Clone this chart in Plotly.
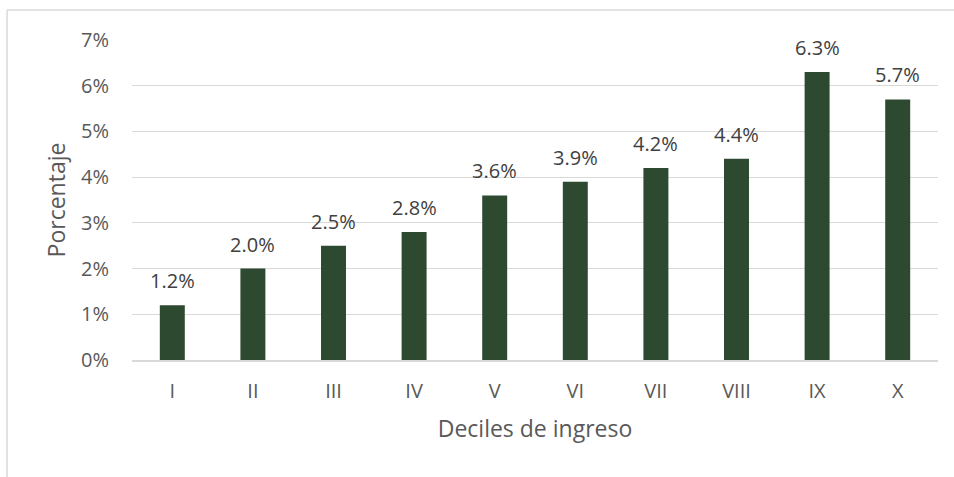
import plotly.graph_objects as go

categories = ["I", "II", "III", "IV", "V", "VI", "VII", "VIII", "IX", "X"]
values = [1.2, 2.0, 2.5, 2.8, 3.6, 3.9, 4.2, 4.4, 6.3, 5.7]
y_ticks = [0, 1, 2, 3, 4, 5, 6, 7]

font_family = "Open Sans"
text_color = "#595959"
label_color = "#404040"
grid_color = "#d9d9d9"

fig = go.Figure(
    go.Bar(
        x=categories,
        y=values,
        marker=dict(color="#2d4a31", line=dict(width=0)),
        width=0.31,
        hoverinfo="x+y",
    )
)

annotations = [
    dict(
        x=c, y=v, xref="x", yref="y",
        text=f"{v:.1f}%",
        showarrow=False,
        yanchor="bottom",
        yshift=9,
        font=dict(size=20, color=label_color, family=font_family),
    )
    for c, v in zip(categories, values)
]

fig.update_layout(
    width=954,
    height=477,
    margin=dict(l=132, r=16, t=40, b=117),
    paper_bgcolor="white",
    plot_bgcolor="white",
    showlegend=False,
    font=dict(family=font_family, color=text_color, size=20),
    annotations=annotations,
    xaxis=dict(
        title=dict(text="Deciles de ingreso", font=dict(size=23, color=text_color), standoff=18),
        showgrid=False,
        showline=True,
        linecolor=grid_color,
        linewidth=1.5,
        ticks="",
        ticklabelstandoff=12,
        tickfont=dict(size=20),
    ),
    yaxis=dict(
        title=dict(text="Porcentaje", font=dict(size=23, color=text_color), standoff=8),
        range=[0, 7],
        tickvals=y_ticks,
        ticktext=[f"{t}%" for t in y_ticks],
        showgrid=True,
        gridcolor=grid_color,
        gridwidth=1,
        zeroline=False,
        showline=False,
        ticks="",
        ticklabelstandoff=22,
        tickfont=dict(size=20),
    ),
    shapes=[
        dict(type="line", xref="paper", yref="paper", x0=-0.155, x1=1.05, y0=1.09375, y1=1.09375,
             line=dict(color=grid_color, width=1.5)),
        dict(type="line", xref="paper", yref="paper", x0=-0.155, x1=-0.155, y0=1.09375, y1=-0.4,
             line=dict(color=grid_color, width=1.5)),
    ],
)

fig.write_html(
    "out.html",
    config={"displayModeBar": False},
    post_script="document.body.style.margin='0';",
)
